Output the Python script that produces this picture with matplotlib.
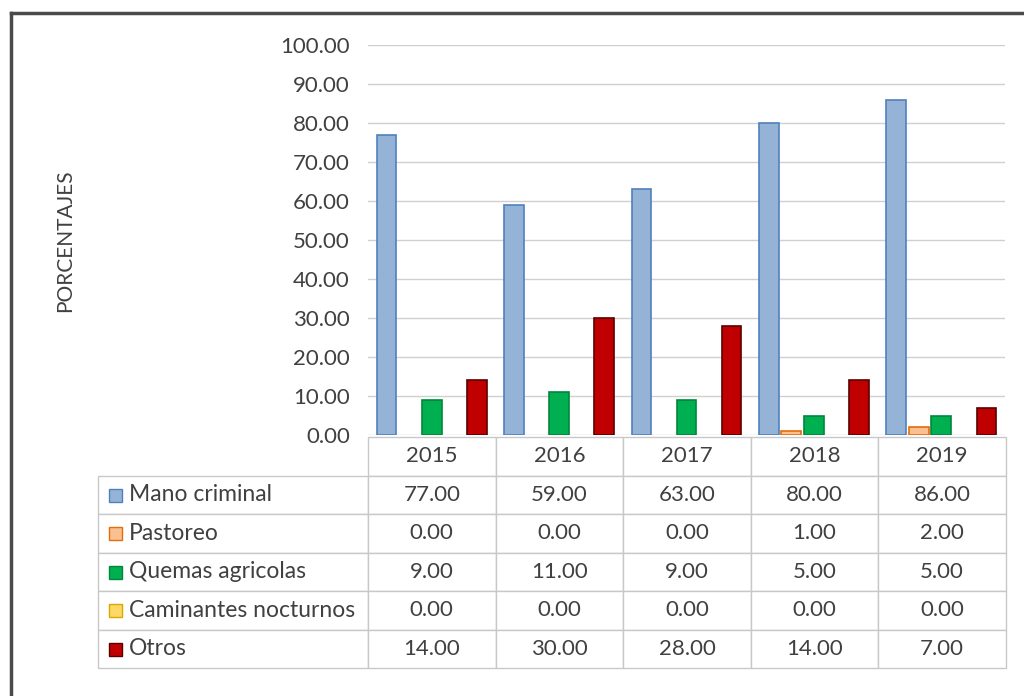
import matplotlib
matplotlib.use("Agg")
import matplotlib.pyplot as plt
from matplotlib.patches import Rectangle
from matplotlib.lines import Line2D
import numpy as np

years = ["2015", "2016", "2017", "2018", "2019"]
series = ["Mano criminal", "Pastoreo", "Quemas agricolas", "Caminantes nocturnos", "Otros"]
mano = [77.0, 59.0, 63.0, 80.0, 86.0]
pastoreo = [0.0, 0.0, 0.0, 1.0, 2.0]
quemas = [9.0, 11.0, 9.0, 5.0, 5.0]
caminantes = [0.0, 0.0, 0.0, 0.0, 0.0]
otros = [14.0, 30.0, 28.0, 14.0, 7.0]
values = [mano, pastoreo, quemas, caminantes, otros]

fills = ["#95b3d7", "#fac090", "#00b050", "#ffd966", "#c00000"]
edges = ["#4f81bd", "#e46c0a", "#00863d", "#d6a800", "#5a0000"]

plt.rcParams['font.family'] = ['Lato', 'DejaVu Sans']
txt_color = "#404040"
fs = 16

fig = plt.figure(figsize=(10.24, 6.96), dpi=100)
L, R, B, T = 368/1024, 1005/1024, 1-435/696, 1-45/696
ax = fig.add_axes([L, B, R-L, T-B])

x = np.arange(len(years))
slot = 0.177
bw = 0.155
for i, (name, vals) in enumerate(zip(series, values)):
    lws = [1.2 if v > 0 else 0 for v in vals]
    ax.bar(x + (i-2)*slot, vals, width=bw, color=fills[i], edgecolor=edges[i],
           linewidth=lws, zorder=3)

ax.set_xlim(-0.5, len(years)-0.5)
ax.set_ylim(0, 100)
ax.set_yticks(np.arange(0, 101, 10))
ax.set_yticklabels([f"{v:.2f}" for v in np.arange(0, 101, 10)])
ax.tick_params(axis='y', length=0, pad=13, labelsize=fs, labelcolor=txt_color)
ax.set_xticks([])
for s in ax.spines.values():
    s.set_visible(False)
ax.grid(axis='y', color='#d0d0d0', linewidth=1, zorder=0)

# data table
axw, axh = 637.0, 390.0
label_w = 270.0 / axw
col_w = 127.6 / axw
row_h = 38.5 / axh
cell_text = [[f"{v:.2f}" for v in vals] for vals in values]
top = -(437 - 435) / axh
nrows = len(series) + 1
tbl = ax.table(cellText=cell_text, rowLabels=series, colLabels=years,
               cellLoc='center', rowLoc='left',
               bbox=[0, top - nrows*row_h, col_w*len(years), nrows*row_h])
tbl._autoColumns = []
tbl.auto_set_font_size(False)
tbl.set_fontsize(fs)
for (r, c), cell in tbl.get_celld().items():
    cell.set_edgecolor('#c8c8c8')
    cell.set_linewidth(1)
    cell.get_text().set_color(txt_color)
    cell.set_height(row_h)
    if c == -1:
        cell.set_width(label_w)
        cell.PAD = 0.115
        cell.get_text().set_fontsize(16.5)
    else:
        cell.set_width(col_w)

# legend keys inside row label cells
for r in range(len(series)):
    yc = 476 + 38.5*r + 38.5/2
    sq = 13.0
    ax.add_patch(Rectangle(((109-368)/axw, -(yc+sq/2-435)/axh), sq/axw, sq/axh,
                           transform=ax.transAxes, facecolor=fills[r], edgecolor=edges[r],
                           linewidth=1, clip_on=False, zorder=5))

fig.text(65/1024, 1-241/696, "PORCENTAJES", rotation=90, ha='center', va='center',
         fontsize=15, color=txt_color)

# outer frame (left and top edges visible)
fig.add_artist(Line2D([11/1024, 11/1024], [0, 1-13/696], transform=fig.transFigure,
                      color='#4a4a4a', linewidth=2.5))
fig.add_artist(Line2D([11/1024, 1], [1-13/696, 1-13/696], transform=fig.transFigure,
                      color='#4a4a4a', linewidth=2.5))

fig.savefig("out.png", dpi=100)
